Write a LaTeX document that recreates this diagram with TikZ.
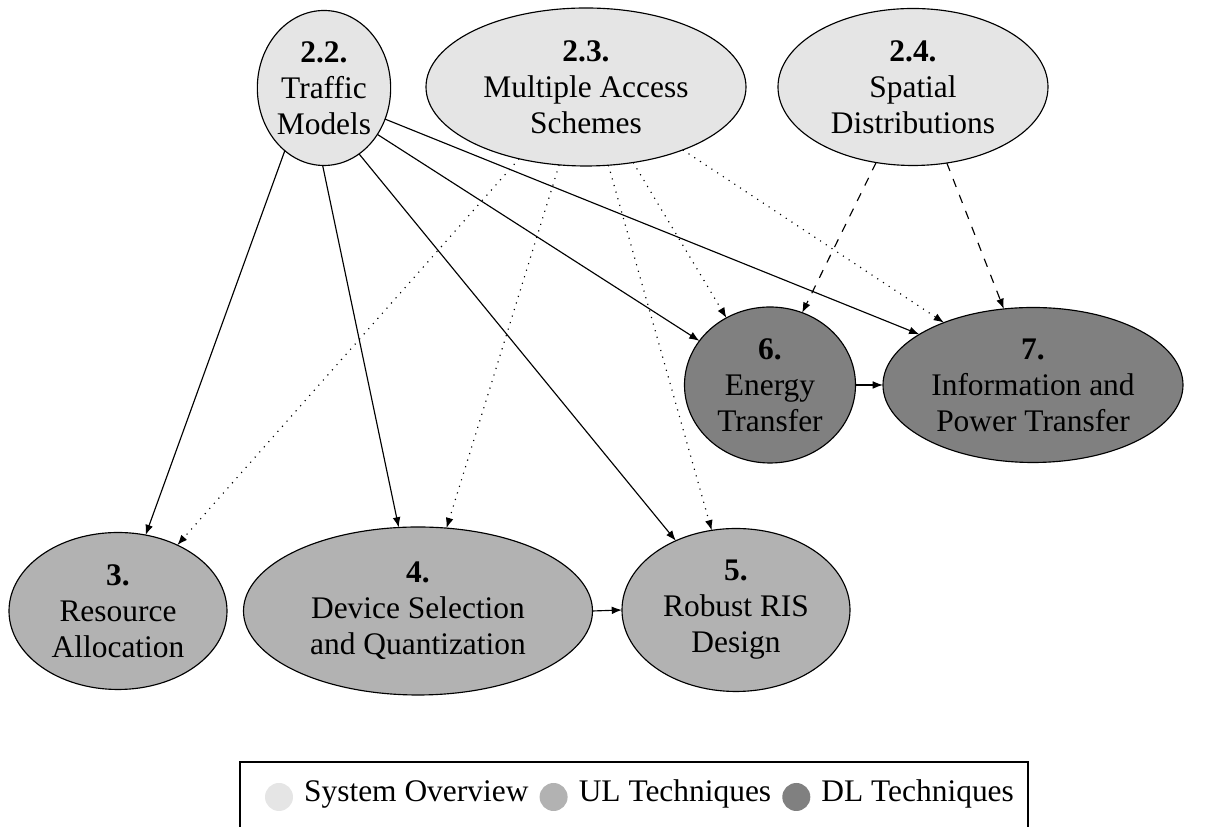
\documentclass[tikz,border=0pt]{standalone}
\usepackage{fontspec}
\setmainfont{Liberation Serif}
\usetikzlibrary{shapes.geometric,arrows.meta}

% one drawing unit = one pixel of the layout grid
\def\pxu{0.35pt}

\begin{document}
\begin{tikzpicture}[x=0.35pt,y=-0.35pt,
  font=\fontsize{11}{12.6}\selectfont,
  topic/.style={ellipse,draw,inner sep=0pt,outer sep=0pt,align=center},
  overview/.style={topic,fill=black!10},
  ultech/.style={topic,fill=black!30},
  dltech/.style={topic,fill=black!50},
  arr/.style={-{Latex[length=3.6pt,width=2.7pt]}},
  legdot/.style={circle,draw=none,inner sep=0pt,minimum size=28*\pxu},
  legtext/.style={anchor=base west,inner sep=0pt},
]
\useasboundingbox (0,0) rectangle (1217,827);

% system overview
\node[overview,minimum width=125*\pxu,minimum height=155*\pxu] (tm) at (324,88) {\textbf{2.2.}\\Traffic\\Models};
\node[overview,minimum width=320*\pxu,minimum height=158*\pxu] (ma) at (586,87) {\textbf{2.3.}\\Multiple Access\\Schemes};
\node[overview,minimum width=270*\pxu,minimum height=157*\pxu] (sd) at (913,87) {\textbf{2.4.}\\Spatial\\Distributions};

% downlink techniques
\node[dltech,minimum width=171*\pxu,minimum height=156*\pxu] (et) at (770,385) {\textbf{6.}\\Energy\\Transfer};
\node[dltech,minimum width=300*\pxu,minimum height=155*\pxu] (ip) at (1033,385) {\textbf{7.}\\Information and\\Power Transfer};

% uplink techniques
\node[ultech,minimum width=218*\pxu,minimum height=157*\pxu] (ra) at (118,611) {\textbf{3.}\\Resource\\Allocation};
\node[ultech,minimum width=349*\pxu,minimum height=168*\pxu] (ds) at (418,611) {\textbf{4.}\\Device Selection\\and Quantization};
\node[ultech,minimum width=228*\pxu,minimum height=163*\pxu] (rr) at (736,610) {\textbf{5.}\\Robust RIS\\Design};

% traffic models
\draw[arr] (tm.238) -- (ra.70);
\draw[arr] (tm.269) -- (ds.103);
\draw[arr] (tm.298) -- (rr.131);
\draw[arr] (tm.319) -- (et.148);
\draw[arr] (tm.333) -- (ip.156);

% multiple access schemes
\draw[arr,dotted] (ma.227) -- (ra.48);
\draw[arr,dotted] (ma.251) -- (ds.71);
\draw[arr,dotted] (ma.286) -- (rr.107);
\draw[arr,dotted] (ma.302) -- (et.123);
\draw[arr,dotted] (ma.327) -- (ip.145);

% spatial distributions
\draw[arr,dashed] (sd.244) -- (et.66);
\draw[arr,dashed] (sd.294) -- (ip.111);

% links between techniques
\draw[arr] (ds.east) -- (rr.west);
\draw[arr] (et.east) -- (ip.west);

% legend
\node[draw,inner sep=0pt,minimum width=788*\pxu,minimum height=72*\pxu] (legend) at (634,798) {};
\node[legdot,fill=black!10] (c1) at (279,797) {};
\node[legtext] (t1) at ([shift={(10,5)}]c1.east) {System Overview};
\node[legdot,fill=black!30,anchor=west] (c2) at ([shift={(10,-5)}]t1.base east) {};
\node[legtext] (t2) at ([shift={(10,5)}]c2.east) {UL Techniques};
\node[legdot,fill=black!50,anchor=west] (c3) at ([shift={(10,-5)}]t2.base east) {};
\node[legtext] (t3) at ([shift={(10,5)}]c3.east) {DL Techniques};
\end{tikzpicture}
\end{document}
